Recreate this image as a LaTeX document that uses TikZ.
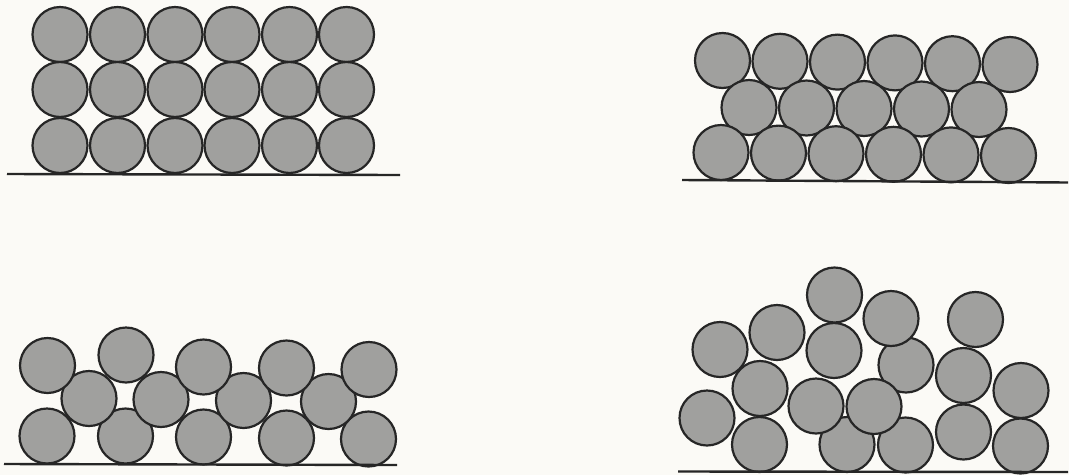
\documentclass[tikz,border=0pt]{standalone}
\definecolor{paper}{HTML}{FBFAF6}
\definecolor{ballgray}{HTML}{A0A09E}
\definecolor{ink}{HTML}{262626}
\tikzset{
  ball/.style={circle, draw=ink, fill=ballgray, line width=2.2pt, minimum size=55pt, inner sep=0pt},
  ground/.style={draw=ink, line width=2.4pt}
}
\begin{document}
\begin{tikzpicture}[x=1pt,y=-1pt]
\useasboundingbox[fill=paper] (0,0) rectangle (1069,475);
% ---------- Panel 1: square packing ----------
\foreach \x [count=\i] in {60,117.5,175,232,289.5,346.5}{
  \node[ball] (a1-\i) at (\x,34.5) {};
  \node[ball] (a2-\i) at (\x,89.5) {};
  \node[ball] (a3-\i) at (\x,145.5) {};
}
\coordinate (g1l) at (7,174);
\coordinate (g1r) at (400,175);
\draw[ground] (g1l) -- (g1r);
% ---------- Panel 2: hexagonal packing ----------
\foreach \i in {0,...,5}{
  \pgfmathsetmacro\xx{722.5+57.5*\i}
  \pgfmathsetmacro\yy{60.5+0.8*\i}
  \node[ball] (b1-\i) at (\xx,\yy) {};
}
\foreach \i in {0,...,4}{
  \pgfmathsetmacro\xx{749+57.5*\i}
  \pgfmathsetmacro\yy{107.5+0.5*\i}
  \node[ball] (b2-\i) at (\xx,\yy) {};
}
\foreach \i in {0,...,5}{
  \pgfmathsetmacro\xx{721+57.5*\i}
  \pgfmathsetmacro\yy{152.5+0.6*\i}
  \node[ball] (b3-\i) at (\xx,\yy) {};
}
\coordinate (g2l) at (682,180);
\coordinate (g2r) at (1068,182.5);
\draw[ground] (g2l) -- (g2r);
% ---------- Panel 3: zig-zag packing ----------
\foreach \x/\y [count=\i] in {47/436,125.5/436,203.5/437,286.5/438,368.5/439}{
  \node[ball] (c3-\i) at (\x,\y) {};
}
\foreach \x/\y [count=\i] in {89/398.5,161/399.5,243.5/400.5,328.5/401.5}{
  \node[ball] (c2-\i) at (\x,\y) {};
}
\foreach \x/\y [count=\i] in {47.5/365.5,126/355,203.5/367,286.5/368,369/369.5}{
  \node[ball] (c1-\i) at (\x,\y) {};
}
\coordinate (g3l) at (4,464);
\coordinate (g3r) at (397,465);
\draw[ground] (g3l) -- (g3r);
% ---------- Panel 4: random packing ----------
\foreach \x/\y [count=\i] in {847/444.5,905.5/445,906/365,
  834.5/295,891/318.5,975.5/319.5,777/332.5,720/349.5,834/350.5,
  963.5/375.5,760/388.5,1021/390.5,707/418,963.5/432,759.5/444.5,
  1020.5/446,816/406,874/406.5}{
  \node[ball] (d-\i) at (\x,\y) {};
}
\coordinate (g4l) at (678,471.5);
\coordinate (g4r) at (1068,472);
\draw[ground] (g4l) -- (g4r);
\end{tikzpicture}
\end{document}
